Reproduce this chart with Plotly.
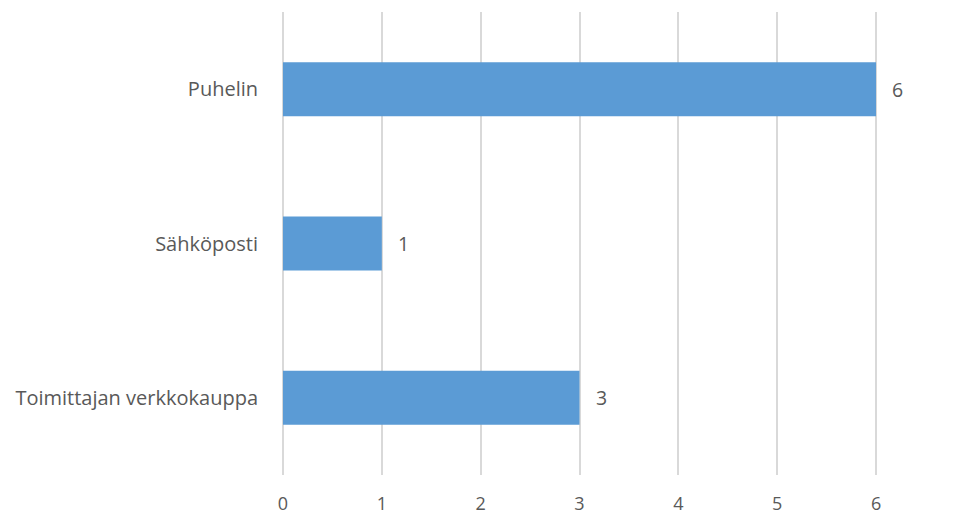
import plotly.graph_objects as go

categories = ["Puhelin", "Sähköposti", "Toimittajan verkkokauppa"]
values = [6, 1, 3]
x_ticks = [0, 1, 2, 3, 4, 5, 6]

font_family = "'Open Sans', sans-serif"
text_color = "#595959"
font_size = 19.5

fig = go.Figure()
fig.add_trace(go.Bar(
    x=values, y=categories, orientation="h",
    marker=dict(color="#5b9bd5", line=dict(width=0)),
    width=0.35, hoverinfo="skip",
))

for c, v in zip(categories, values):
    fig.add_annotation(x=v, y=c, text=str(v), showarrow=False,
                       xanchor="left", xshift=14,
                       font=dict(family=font_family, size=font_size, color=text_color))

fig.update_layout(
    width=972, height=516,
    margin=dict(l=281, r=94, t=12, b=41),
    paper_bgcolor="white", plot_bgcolor="white",
    showlegend=False,
    font=dict(family=font_family, size=font_size, color=text_color),
    xaxis=dict(range=[-0.02, 6.02], tickvals=x_ticks, showgrid=True,
               gridcolor="#d9d9d9", gridwidth=2, zeroline=False,
               showline=False, ticks="", ticklabelstandoff=16,
               fixedrange=True, automargin=False,
               tickfont=dict(size=18)),
    yaxis=dict(categoryorder="array", categoryarray=categories,
               autorange="reversed", range=[2.5, -0.5], showgrid=False,
               zeroline=False, showline=False, ticks="",
               ticklabelstandoff=22, automargin=False,
               tickfont=dict(size=20)),
)

fig.write_html("out.html")
